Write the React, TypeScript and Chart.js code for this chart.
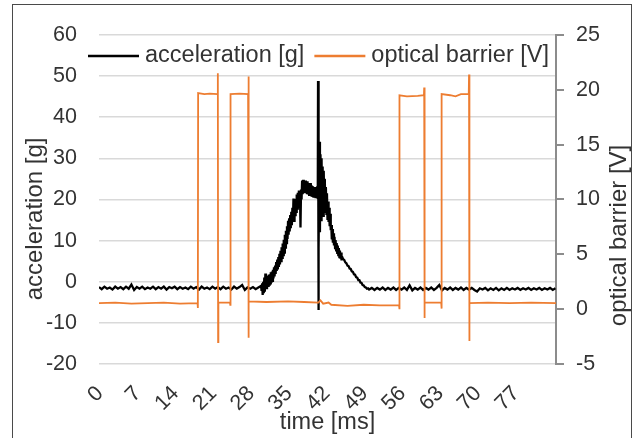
import React, { useEffect, useRef } from 'react';
import { Chart, registerables } from 'chart.js';

Chart.register(...registerables);

const FONT = "'Liberation Sans', Arial, sans-serif";
const TEXT = '#333333';

// acceleration [g] — baseline before the impact
const accTimeStart = [
  0, 0.5, 1, 1.5, 2, 2.5, 3, 3.5, 4, 4.5,
  5, 5.5, 6, 6.5, 7, 7.5, 8, 8.5, 9, 9.5,
  10, 10.5, 11, 11.5, 12, 12.5, 13, 13.5, 14, 14.5,
  15, 15.5, 16, 16.5, 17, 17.5, 18, 18.5, 19, 19.5,
  20, 20.5, 21, 21.5, 22, 22.5, 23, 23.5, 24, 24.5,
  25, 25.5, 26, 26.5, 27, 27.5, 28, 28.5, 29, 29.5,
];
const accStart = [
  -1.3, -1.8, -1.2, -1.7, -1.4, -1.9, -1.2, -1.7, -1.3, -1.8,
  -1.2, -1.7, -0.7, -2.0, -1.3, -1.7, -1.2, -1.8, -1.4, -1.7,
  -1.2, -1.8, -1.3, -1.7, -1.2, -1.9, -1.3, -1.6, -1.2, -1.8,
  -1.3, -1.7, -1.4, -1.8, -1.2, -1.7, -1.3, -1.9, -1.2, -1.7,
  -1.4, -1.8, -1.2, -1.7, -1.3, -1.8, -1.2, -1.7, -1.4, -1.9,
  -1.2, -1.7, -1.3, -0.8, -2.0, -1.4, -1.7, -1.3, -1.8, -1.4,
];

// acceleration — rising part up to the plateau
const accTimeRise = [
  30.0, 30.1, 30.2, 30.3, 30.4, 30.5, 30.6, 30.7, 30.8, 30.9,
  31.0, 31.1, 31.2, 31.3, 31.4, 31.5, 31.6, 31.7, 31.8, 31.9,
  32.0, 32.1, 32.2, 32.3, 32.4, 32.5, 32.6, 32.7, 32.8, 32.9,
  33.0, 33.1, 33.2, 33.3, 33.4, 33.5, 33.6, 33.7, 33.8, 33.9,
  34.0, 34.1, 34.2, 34.3, 34.4, 34.5, 34.6, 34.7, 34.8, 34.9,
  35.0, 35.1, 35.2, 35.3, 35.4, 35.5, 35.6, 35.7, 35.8, 35.9,
  36.0, 36.1, 36.2, 36.3, 36.4, 36.5, 36.6, 36.7, 36.8, 36.9,
  37.0, 37.1, 37.2, 37.3, 37.4, 37.5, 37.6, 37.7, 37.8, 37.9,
  38.0, 38.1, 38.2, 38.3, 38.4, 38.5, 38.6, 38.7, 38.8, 38.9,
  39.0, 39.1, 39.2, 39.3, 39.4, 39.5, 39.6, 39.7, 39.8, 39.9,
  40.0, 40.1, 40.2, 40.3, 40.4, 40.5,
];
const accRise = [
  -1.0, -2.2, -0.4, -3.2, 0.0, -2.8, 1.0, -2.4, 2.0, -1.6,
  0.8, -1.8, 1.4, -1.0, 1.7, -0.7, 1.8, -0.4, 2.3, 0.1,
  2.5, 0.2, 2.9, 0.8, 3.5, 1.3, 3.9, 1.9, 4.8, 2.6,
  5.4, 3.0, 6.0, 3.6, 6.8, 4.2, 7.5, 5.0, 8.4, 5.8,
  9.3, 6.5, 10.2, 7.1, 11.4, 8.3, 12.4, 9.4, 13.5, 10.4,
  14.8, 11.4, 15.4, 12.2, 16.2, 13.0, 17.0, 13.7, 18.0, 14.6,
  20.2, 14.8, 19.2, 16.2, 20.2, 17.0, 21.2, 17.8, 21.6, 18.2,
  22.2, 18.4, 22.0, 13.2, 22.4, 20.0, 24.6, 21.3, 24.8, 21.9,
  24.4, 21.5, 24.6, 21.7, 24.2, 21.3, 24.4, 21.5, 24.0, 21.1,
  23.8, 21.3, 24.0, 21.0, 23.4, 20.9, 23.2, 20.7, 23.0, 20.5,
  22.8, 20.3, 23.0, 20.5, 23.2, 20.1,
];

// acceleration — the sharp spike
const accTimeSpike = [40.55, 40.6, 40.65];
const accSpike = [48.8, -6.9, 36.5];

// acceleration — decay back to the baseline
const accTimeDecay = [
  40.7, 40.8, 40.9,
  41.0, 41.1, 41.2, 41.3, 41.4, 41.5, 41.6, 41.7, 41.8, 41.9,
  42.0, 42.1, 42.2, 42.3, 42.4, 42.5, 42.6, 42.7, 42.8, 42.9,
  43.0, 43.1, 43.2, 43.3, 43.4, 43.5, 43.6, 43.7, 43.8, 43.9,
  44.0, 44.1, 44.2, 44.3, 44.4, 44.5, 44.6, 44.7, 44.8, 44.9,
  45.0, 45.2, 45.4, 45.6, 45.8, 46.0, 46.2, 46.4, 46.6, 46.8,
  47.0, 47.2, 47.4, 47.6, 47.8, 48.0, 48.2, 48.4, 48.6, 48.8,
  49.0, 49.2, 49.4, 49.6, 49.8, 50.0,
];
const accDecay = [
  8.0, 34.0, 12.0,
  31.0, 15.0, 30.0, 17.0, 28.0, 16.0, 27.0, 18.0, 25.0, 17.0,
  23.0, 16.5, 21.5, 15.0, 19.5, 14.5, 18.0, 13.5, 16.5, 12.5,
  13.8, 10.3, 12.8, 9.5, 11.8, 8.8, 10.9, 8.2, 10.1, 7.6,
  9.4, 7.0, 8.8, 6.5, 8.2, 6.0, 7.6, 5.6, 7.1, 5.2,
  6.1, 5.5, 5.3, 4.7, 4.5, 3.9, 3.8, 3.2, 3.1, 2.5,
  2.4, 1.8, 1.7, 1.1, 1.0, 0.4, 0.4, -0.2, -0.3, -0.8,
  -0.9, -1.3, -1.4, -1.7, -1.6, -1.9,
];

// acceleration — baseline after the impact
const accTimeEnd = [
  50.5, 51, 51.5, 52, 52.5, 53, 53.5, 54, 54.5, 55,
  55.5, 56, 56.5, 57, 57.5, 58, 58.5, 59, 59.5, 60,
  60.5, 61, 61.5, 62, 62.5, 63, 63.5, 64, 64.5, 65,
  65.5, 66, 66.5, 67, 67.5, 68, 68.5, 69, 69.5, 70,
  70.5, 71, 71.5, 72, 72.5, 73, 73.5, 74, 74.5, 75,
  75.5, 76, 76.5, 77, 77.5, 78, 78.5, 79, 79.5, 80,
  80.5, 81, 81.5, 82, 82.5, 83, 83.5, 84, 84.5,
];
const accEnd = [
  -1.5, -2.0, -1.5, -1.9, -1.4, -2.0, -1.5, -1.9, -1.4, -2.0,
  -1.5, -1.9, -1.4, -2.0, -0.9, -2.1, -1.5, -1.9, -1.4, -2.0,
  -1.5, -1.9, -1.4, -2.0, -1.5, -0.8, -2.1, -1.5, -1.9, -1.4,
  -2.0, -1.5, -1.9, -1.4, -2.0, -1.5, -1.9, -1.5, -2.0, -2.4,
  -1.6, -1.9, -1.5, -2.1, -1.6, -2.0, -1.5, -2.1, -1.6, -2.0,
  -1.5, -2.0, -1.6, -1.9, -1.5, -2.0, -1.6, -1.9, -1.5, -2.0,
  -1.6, -1.9, -1.5, -2.0, -1.6, -1.9, -1.5, -2.0, -1.6,
];

// optical barrier [V]
const barrierTime = [
  0, 3, 6, 9, 12, 15,
  18.25, 18.3, 18.35, 19.5, 20.5, 21.95,
  22.0, 22.05, 22.1, 24.25, 24.3, 24.35, 26, 27.6,
  27.65, 27.7, 27.75, 31, 35, 38,
  40.6, 41, 41.5, 42.5, 43, 46, 49, 52,
  55.55, 55.6, 55.65, 57, 59,
  60.15, 60.2, 60.25, 60.3,
  63.35, 63.4, 63.45, 65, 66, 67,
  68.45, 68.5, 68.55, 68.6, 72, 76, 80, 84.6,
];
const barrierV = [
  0.55, 0.6, 0.5, 0.55, 0.6, 0.5,
  0.55, 0.1, 19.7, 19.6, 19.65, 19.6,
  21.5, -3.0, 0.6, 0.6, 0.4, 19.6, 19.65, 19.6,
  21.2, -2.6, 0.7, 0.65, 0.7, 0.65,
  0.6, 0.8, 0.5, 0.6, 0.4, 0.3, 0.4, 0.35,
  0.35, 0.0, 19.5, 19.4, 19.45,
  19.5, 20.2, -0.8, 0.6,
  0.6, 0.05, 19.6, 19.5, 19.4, 19.6,
  19.6, 21.4, -2.9, 0.55, 0.6, 0.55, 0.6, 0.55,
];

const xTickStep = 7;
const xMax = 84.6;
const xLastLabel = 77;

const toPoints = (xs: number[], ys: number[]) => xs.map((x, i) => ({ x, y: ys[i] }));

// legend drawn inside the plot area and the two rotated y-axis titles
const overlayText = {
  id: 'overlayText',
  afterDraw(chart: any) {
    const { ctx, chartArea, scales } = chart;
    ctx.save();
    // legend
    const y = chartArea.top + 21;
    ctx.font = `23.5px ${FONT}`;
    ctx.textBaseline = 'middle';
    ctx.textAlign = 'left';
    let x = chartArea.left - 11;
    chart.data.datasets.forEach((ds: any) => {
      ctx.strokeStyle = ds.borderColor;
      ctx.lineWidth = 2.5;
      ctx.beginPath();
      ctx.moveTo(x, y);
      ctx.lineTo(x + 51, y);
      ctx.stroke();
      x += 57;
      ctx.fillStyle = TEXT;
      ctx.fillText(ds.label, x, y);
      x += ctx.measureText(ds.label).width + 10;
    });
    // vertical axis titles (both read bottom to top)
    const midY = (chartArea.top + chartArea.bottom) / 2;
    ctx.font = `24px ${FONT}`;
    ctx.textAlign = 'center';
    ctx.fillStyle = TEXT;
    const drawV = (text: string, cx: number, cy: number) => {
      ctx.save();
      ctx.translate(cx, cy);
      ctx.rotate(-Math.PI / 2);
      ctx.fillText(text, 0, 0);
      ctx.restore();
    };
    drawV(scales.y.options.title.text, chartArea.left - 64, midY + 19.5);
    drawV(scales.y1.options.title.text, chartArea.right + 63, midY + 36);
    ctx.restore();
  },
};

export default function App() {
  const ref = useRef<HTMLCanvasElement>(null);

  useEffect(() => {
    if (!ref.current) return;
    const accTime = [...accTimeStart, ...accTimeRise, ...accTimeSpike, ...accTimeDecay, ...accTimeEnd];
    const acc = [...accStart, ...accRise, ...accSpike, ...accDecay, ...accEnd];
    const tickFont = { family: FONT, size: 21.5 };
    const titleFont = { family: FONT, size: 23.5 };

    const chart = new Chart(ref.current, {
      type: 'line',
      data: {
        datasets: [
          {
            label: 'acceleration [g]',
            data: toPoints(accTime, acc),
            borderColor: '#000000',
            backgroundColor: '#000000',
            borderWidth: 2.3,
            yAxisID: 'y',
            order: 1,
          },
          {
            label: 'optical barrier [V]',
            data: toPoints(barrierTime, barrierV),
            borderColor: '#ED7D31',
            backgroundColor: '#ED7D31',
            borderWidth: 1.8,
            yAxisID: 'y1',
            order: 0,
          },
        ],
      },
      options: {
        animation: false,
        responsive: true,
        maintainAspectRatio: false,
        layout: { padding: { top: 29, left: 0, right: 0, bottom: 0 } },
        elements: { point: { radius: 0 }, line: { tension: 0 } },
        plugins: { legend: { display: false }, tooltip: { enabled: false } },
        scales: {
          x: {
            type: 'linear',
            min: 0,
            max: xMax,
            grid: { display: false, drawTicks: false },
            border: { display: false },
            ticks: {
              stepSize: xTickStep,
              autoSkip: false,
              maxRotation: 45,
              minRotation: 45,
              padding: 17,
              labelOffset: 1,
              color: TEXT,
              font: tickFont,
            },
            afterBuildTicks: (s: any) => {
              s.ticks = s.ticks.filter((t: any) => t.value <= xLastLabel + 1e-6);
            },
            afterFit: (s: any) => {
              s.height = 74;
            },
            title: {
              display: true,
              text: 'time [ms]',
              color: TEXT,
              font: titleFont,
              padding: { top: 0, bottom: 1 },
            },
          },
          y: {
            position: 'left',
            min: -20,
            max: 60,
            ticks: { stepSize: 10, padding: 22, color: TEXT, font: tickFont },
            grid: { color: '#d9d9d9', lineWidth: 1.5, drawTicks: false },
            border: { display: false },
            afterFit: (s: any) => {
              s.width = 99;
            },
            title: { display: false, text: 'acceleration [g]' },
          },
          y1: {
            position: 'right',
            min: -5,
            max: 25,
            ticks: { stepSize: 5, padding: 12, color: TEXT, font: tickFont },
            grid: { drawOnChartArea: false, color: '#8c8c8c', lineWidth: 2, tickLength: 8 },
            border: { display: true, color: '#8c8c8c', width: 2 },
            afterFit: (s: any) => {
              s.width = 80;
            },
            title: { display: false, text: 'optical barrier [V]' },
          },
        },
      },
      plugins: [overlayText],
    } as any);

    return () => chart.destroy();
  }, []);

  return (
    <div
      style={{
        position: 'fixed',
        left: 0,
        top: 0,
        width: 636,
        height: 438,
        background: '#ffffff',
        overflow: 'hidden',
      }}
    >
      <canvas ref={ref} style={{ display: 'block' }} />
      <div
        style={{
          position: 'absolute',
          left: 12,
          top: 4,
          width: 620,
          height: 460,
          border: '1px solid #4a4a4a',
          boxSizing: 'border-box',
          pointerEvents: 'none',
        }}
      />
    </div>
  );
}
